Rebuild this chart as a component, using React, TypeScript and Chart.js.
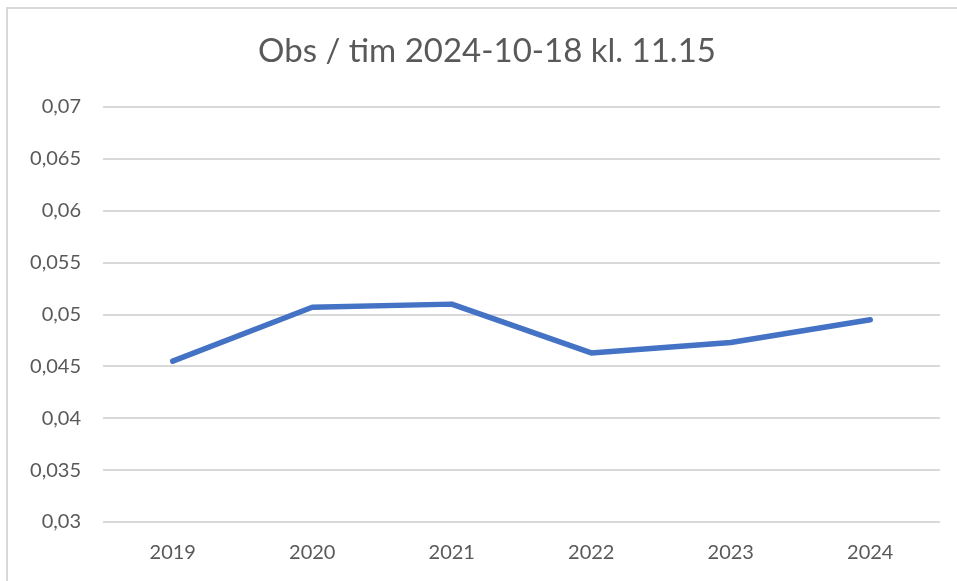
import React, { useEffect, useRef } from "react";
import { Chart, registerables } from "chart.js";

Chart.register(...registerables);

const years = ["2019", "2020", "2021", "2022", "2023", "2024"];
const obsPerHour = [0.0455, 0.0507, 0.051, 0.0463, 0.0473, 0.0495];
const yMin = 0.03;
const yMax = 0.07;
const yStep = 0.005;
const titleText = "Obs / tim 2024-10-18 kl. 11.15";

const textColor = "#595959";
const gridColor = "#d9d9d9";
const lineColor = "#4472C4";
const fontFamily = "Lato, 'Noto Sans', sans-serif";

export default function App() {
  const ref = useRef<HTMLCanvasElement | null>(null);

  useEffect(() => {
    if (!ref.current) return;
    const chart = new Chart(ref.current, {
      type: "line",
      data: {
        labels: years,
        datasets: [
          {
            data: obsPerHour,
            borderColor: lineColor,
            borderWidth: 5.5,
            pointRadius: 0,
            tension: 0,
            fill: false,
            borderCapStyle: "round",
            borderJoinStyle: "round",
            yAxisID: "y",
          },
        ],
      },
      options: {
        animation: false,
        responsive: false,
        maintainAspectRatio: false,
        layout: { padding: { left: 0, right: 0, top: 0, bottom: 0 } },
        plugins: {
          legend: { display: false },
          tooltip: { enabled: false },
          title: {
            display: true,
            text: titleText,
            color: textColor,
            font: { family: fontFamily, size: 33, weight: "normal", lineHeight: 1.2 },
            padding: { top: 32, bottom: 35.4 },
          },
        },
        scales: {
          x: {
            type: "category",
            offset: true,
            grid: { display: false, drawTicks: false },
            border: { display: false },
            ticks: {
              color: textColor,
              font: { family: fontFamily, size: 20 },
              padding: 19,
              maxRotation: 0,
            },
            afterFit: (scale: any) => {
              scale.height = 59;
            },
          },
          y: {
            position: "left",
            min: yMin,
            max: yMax,
            grid: { color: gridColor, lineWidth: 2, drawTicks: false },
            border: { display: false },
            ticks: {
              stepSize: yStep,
              color: textColor,
              font: { family: fontFamily, size: 20 },
              padding: 22,
              callback: (v: any) => {
                const n = Math.round(Number(v) * 1000) / 1000;
                return String(n).replace(".", ",");
              },
            },
            afterFit: (scale: any) => {
              scale.width = 87;
            },
          },
          yRightSpace: {
            type: "linear",
            position: "right",
            display: true,
            min: yMin,
            max: yMax,
            grid: { display: false, drawTicks: false },
            border: { display: false },
            ticks: { display: false },
            afterFit: (scale: any) => {
              scale.width = 18;
            },
          },
        },
      },
    });
    return () => chart.destroy();
  }, []);

  return (
    <div style={{ position: "fixed", left: 0, top: 0, width: 957, height: 581, background: "#fff", overflow: "hidden" }}>
      <div
        style={{
          position: "absolute",
          left: 6,
          top: 7,
          width: 1000,
          height: 1000,
          borderTop: `2px solid ${gridColor}`,
          borderLeft: `2px solid ${gridColor}`,
        }}
      />
      <canvas ref={ref} width={942} height={581} style={{ position: "absolute", left: 16, top: 0 }} />
    </div>
  );
}
